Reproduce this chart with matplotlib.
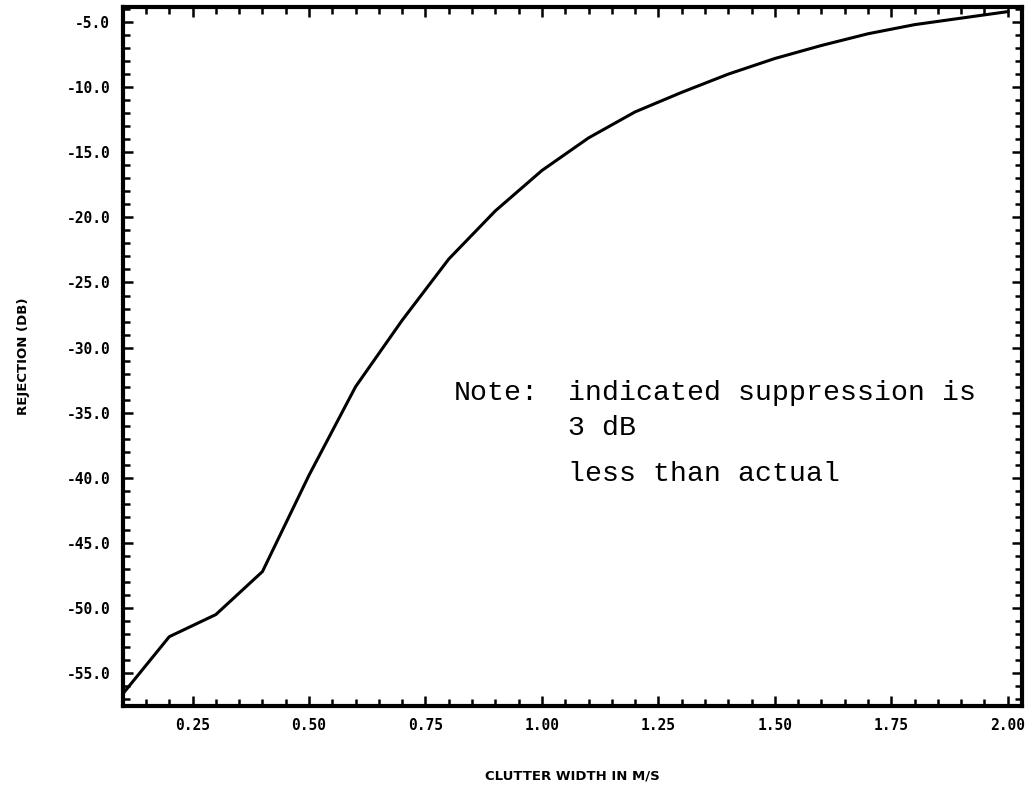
import numpy as np
import matplotlib.pyplot as plt
from matplotlib.ticker import MultipleLocator, FormatStrFormatter

# clutter width (m/s) and rejection (dB)
width = [0.1, 0.2, 0.3, 0.4, 0.5, 0.6, 0.7, 0.8, 0.9, 1.0,
         1.1, 1.2, 1.3, 1.4, 1.5, 1.6, 1.7, 1.8, 1.9, 2.0]
rejection = [-56.6, -52.2, -50.5, -47.2, -39.8, -33.0, -27.9, -23.2, -19.5, -16.4,
             -13.9, -11.9, -10.4, -9.0, -7.8, -6.8, -5.9, -5.2, -4.7, -4.2]

xticks = [0.25, 0.50, 0.75, 1.00, 1.25, 1.50, 1.75, 2.00]
yticks = [-5.0, -10.0, -15.0, -20.0, -25.0, -30.0, -35.0, -40.0, -45.0, -50.0, -55.0]

note_lines = ['indicated suppression is', '3 dB', 'less than actual']

fig = plt.figure(figsize=(10.31, 7.85), dpi=100)
ax = fig.add_axes([0.119, 0.101, 0.872, 0.890])

ax.plot(width, rejection, color='black', lw=2.2)

ax.set_xlim(0.1, 2.03)
ax.set_ylim(-57.5, -3.85)
ax.set_xticks(xticks)
ax.set_yticks(yticks)
ax.xaxis.set_minor_locator(MultipleLocator(0.05))
ax.yaxis.set_minor_locator(MultipleLocator(1.0))
ax.xaxis.set_major_formatter(FormatStrFormatter('%.2f'))
ax.yaxis.set_major_formatter(FormatStrFormatter('%.1f'))

for s in ax.spines.values():
    s.set_linewidth(3.0)
ax.tick_params(which='both', direction='in', top=True, right=True, width=1.8)
ax.tick_params(which='major', length=7, pad=9)
ax.tick_params(which='minor', length=5)
for lab in ax.get_xticklabels() + ax.get_yticklabels():
    lab.set_fontfamily('DejaVu Sans Mono')
    lab.set_fontweight('bold')
    lab.set_fontsize(10.5)

ax.set_xlabel('CLUTTER WIDTH IN M/S', fontsize=9.5, fontweight='bold', labelpad=26)
ax.set_ylabel('REJECTION (DB)', fontsize=9.5, fontweight='bold', labelpad=26)

# typewritten note
tf = dict(family='Liberation Mono', fontsize=20.3, va='center', ha='left')
ax.text(0.81, -33.5, 'Note:', **tf)
ax.text(1.057, -33.5, note_lines[0], **tf)
ax.text(1.057, -36.15, note_lines[1], **tf)
ax.text(1.057, -39.7, note_lines[2], **tf)

fig.savefig('out.png', dpi=100)
